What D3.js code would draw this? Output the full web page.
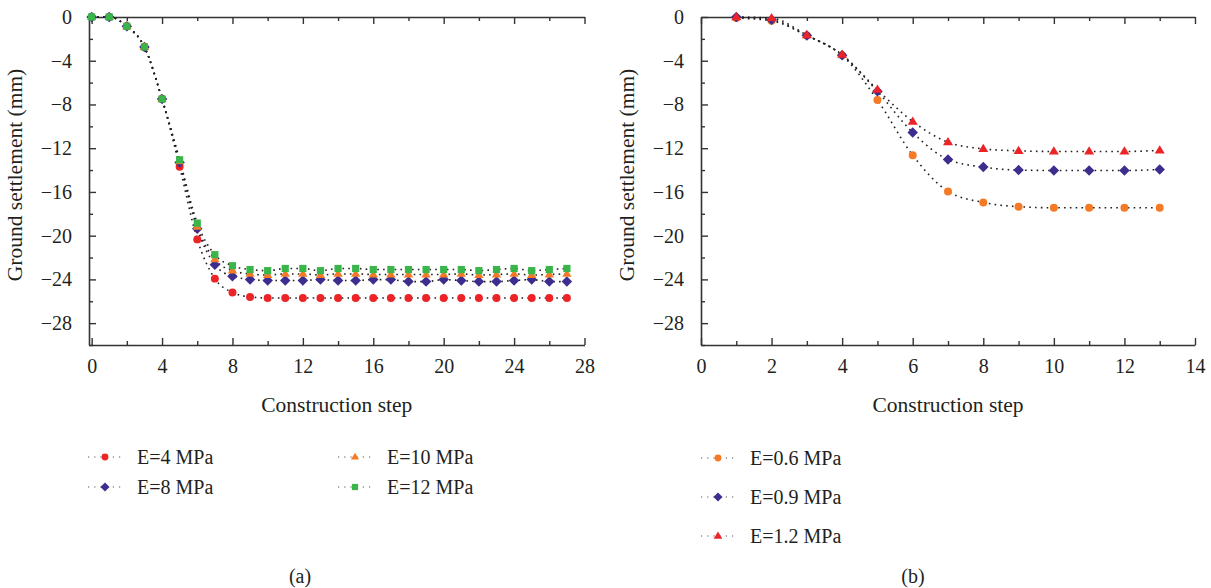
<!DOCTYPE html>
<html>
<head>
<meta charset="utf-8">
<script src="https://cdn.jsdelivr.net/npm/d3@7"></script>
<style>
  html, body { margin: 0; padding: 0; background: #fff; }
  svg { display: block; }
  text { font-family: "Liberation Serif", "DejaVu Serif", serif; fill: #231f20; }
</style>
</head>
<body>
<svg id="chart" width="1211" height="588"></svg>
<script>
// ---- Panel (a): settlement vs. construction step for four moduli ----
const stepsA = d3.range(0, 28);
const seriesANames = ["E=4 MPa", "E=8 MPa", "E=10 MPa", "E=12 MPa"];
const settleE4 = [0, 0, -0.85, -2.74, -7.5, -13.7, -20.34, -23.93, -25.2, -25.6, -25.7, -25.7, -25.7, -25.7, -25.7, -25.7, -25.7, -25.7, -25.7, -25.7, -25.7, -25.7, -25.7, -25.7, -25.7, -25.7, -25.7, -25.7];
const settleE8 = [0, 0, -0.85, -2.74, -7.5, -13.3, -19.36, -22.65, -23.72, -24.0, -24.1, -24.1, -24.1, -24.02, -24.1, -24.1, -24.02, -24.02, -24.2, -24.2, -24.02, -24.1, -24.2, -24.2, -24.1, -24.02, -24.2, -24.2];
const settleE10 = [0, 0, -0.85, -2.74, -7.5, -13.2, -19.2, -22.17, -23.2, -23.5, -23.6, -23.5, -23.5, -23.6, -23.5, -23.5, -23.55, -23.55, -23.55, -23.55, -23.55, -23.5, -23.6, -23.55, -23.5, -23.6, -23.55, -23.5];
const settleE12 = [0, 0, -0.85, -2.74, -7.5, -13.06, -18.85, -21.74, -22.75, -23.1, -23.2, -23.0, -23.0, -23.2, -23.0, -23.0, -23.1, -23.1, -23.1, -23.1, -23.1, -23.1, -23.2, -23.1, -23.0, -23.2, -23.1, -23.0];
const xTicksA = [0, 4, 8, 12, 16, 20, 24, 28];

// ---- Panel (b): settlement vs. construction step for three moduli ----
const stepsB = d3.range(1, 14);
const seriesBNames = ["E=0.6 MPa", "E=0.9 MPa", "E=1.2 MPa"];
const settleE06 = [-0.1, -0.35, -1.7, -3.5, -7.6, -12.64, -15.95, -16.96, -17.35, -17.45, -17.45, -17.45, -17.45];
const settleE09 = [0, -0.25, -1.7, -3.5, -6.8, -10.57, -13.03, -13.73, -14.0, -14.04, -14.04, -14.04, -13.95];
const settleE12b = [0, -0.1, -1.65, -3.45, -6.65, -9.56, -11.45, -12.06, -12.24, -12.3, -12.3, -12.3, -12.2];
const xTicksB = [0, 2, 4, 6, 8, 10, 12, 14];

const yTicks = [0, -4, -8, -12, -16, -20, -24, -28];
const yLabel = "Ground settlement (mm)";
const xLabel = "Construction step";

const svg = d3.select("#chart");

const axisColor = "#333";

// marker shapes; the diamond is a square turned 45 degrees
function markerPath(shape, size) {
  if (shape === "diamond") {
    const h = Math.sqrt(size) / Math.SQRT2 * 1.05;
    return `M0,${-h}L${h},0L0,${h}L${-h},0Z`;
  }
  if (shape === "triangle") {
    const s = Math.sqrt(size) * 1.45;
    const hgt = s * 0.82;
    return `M0,${-hgt * 0.62}L${s / 2},${hgt * 0.38}L${-s / 2},${hgt * 0.38}Z`;
  }
  const types = { circle: d3.symbolCircle, square: d3.symbolSquare };
  return d3.symbol().type(types[shape]).size(size)();
}

function drawPanel(cfg) {
  const g = svg.append("g");
  const x = d3.scaleLinear().domain(cfg.xDomain).range([cfg.left, cfg.right]);
  const y = d3.scaleLinear().domain([-30, 0]).range([cfg.bottom, cfg.top]);

  // bottom axis (ticks inward)
  g.append("g").attr("transform", `translate(0,${cfg.bottom})`)
    .call(d3.axisBottom(x).tickValues(cfg.xTicks).tickSizeInner(-7).tickSizeOuter(0)
      .tickFormat(d => d).tickPadding(14));
  g.append("g").attr("transform", `translate(0,${cfg.bottom})`)
    .call(d3.axisBottom(x).tickValues(cfg.xMinor).tickSizeInner(-4).tickSizeOuter(0).tickFormat(""))
    .select(".domain").remove();

  // top axis (ticks inward, no labels)
  g.append("g").attr("transform", `translate(0,${cfg.top})`)
    .call(d3.axisTop(x).tickValues(cfg.xTicks).tickSizeInner(-7).tickSizeOuter(0).tickFormat(""));
  g.append("g").attr("transform", `translate(0,${cfg.top})`)
    .call(d3.axisTop(x).tickValues(cfg.xMinor).tickSizeInner(-4).tickSizeOuter(0).tickFormat(""))
    .select(".domain").remove();

  // left axis (ticks inward)
  g.append("g").attr("transform", `translate(${cfg.left},0)`)
    .call(d3.axisLeft(y).tickValues(yTicks).tickSizeInner(-7).tickSizeOuter(0)
      .tickFormat(d => d === 0 ? "0" : "\u2212" + Math.abs(d)).tickPadding(17));
  g.append("g").attr("transform", `translate(${cfg.left},0)`)
    .call(d3.axisLeft(y).tickValues([-2, -6, -10, -14, -18, -22, -26, -30]).tickSizeInner(-4).tickSizeOuter(0).tickFormat(""))
    .select(".domain").remove();

  g.selectAll(".domain").attr("stroke", axisColor).attr("stroke-width", 1.6);
  g.selectAll(".tick line").attr("stroke", axisColor).attr("stroke-width", 1.4);
  g.selectAll(".tick text").attr("font-size", 20).attr("fill", "#231f20")
    .attr("font-family", "Liberation Serif, DejaVu Serif, serif");

  // axis titles
  g.append("text")
    .attr("transform", `translate(${cfg.left - 67},${(cfg.top + cfg.bottom) / 2 - 6}) rotate(-90)`)
    .attr("text-anchor", "middle").attr("font-size", 21.5).text(yLabel);
  g.append("text")
    .attr("x", (cfg.left + cfg.right) / 2).attr("y", 412)
    .attr("text-anchor", "middle").attr("font-size", 21.5).text(xLabel);

  // series
  const line = d3.line().x(d => x(d[0])).y(d => y(d[1])).curve(d3.curveMonotoneX);
  cfg.series.forEach(s => {
    const pts = cfg.steps.map((st, i) => [st, s.values[i]]);
    g.append("path").datum(pts).attr("d", line)
      .attr("fill", "none").attr("stroke", "#231f20").attr("stroke-width", 1.6)
      .attr("stroke-dasharray", "1.6,4.2");
  });
  cfg.series.forEach(s => {
    const pts = cfg.steps.map((st, i) => [st, s.values[i]]);
    g.append("g").selectAll("path").data(pts).join("path")
      .attr("transform", d => `translate(${x(d[0])},${y(d[1])})`)
      .attr("d", markerPath(s.shape, s.size)).attr("fill", s.color);
  });

  // legend
  cfg.legend.forEach(l => {
    const s = cfg.series[l.idx];
    const lg = g.append("g").attr("transform", `translate(${l.x},${l.y})`);
    lg.append("line").attr("x1", -17).attr("x2", 17).attr("y1", 0).attr("y2", 0)
      .attr("stroke", "#555").attr("stroke-width", 1.2).attr("stroke-dasharray", "1.2,5");
    lg.append("path").attr("d", markerPath(s.shape, s.size * 0.75)).attr("fill", s.color);
    lg.append("text").attr("x", 32).attr("y", 7).attr("font-size", 20).text(s.name);
  });

  g.append("text").attr("x", cfg.tagX).attr("y", 583).attr("text-anchor", "middle")
    .attr("font-size", 20).text(cfg.tag);
}

const red = "#ec2427", blue = "#3b2e8e", orange = "#f47a26", green = "#39b54a";

drawPanel({
  xDomain: [-0.15, 28], left: 89, right: 584.5, top: 17, bottom: 345,
  xTicks: xTicksA, xMinor: [2, 6, 10, 14, 18, 22, 26],
  steps: stepsA,
  series: [
    { name: seriesANames[0], values: settleE4, color: red, shape: "circle", size: 50 },
    { name: seriesANames[1], values: settleE8, color: blue, shape: "diamond", size: 50 },
    { name: seriesANames[2], values: settleE10, color: orange, shape: "triangle", size: 42 },
    { name: seriesANames[3], values: settleE12, color: green, shape: "square", size: 52 }
  ],
  legend: [
    { idx: 0, x: 105, y: 457 }, { idx: 1, x: 105, y: 487 },
    { idx: 2, x: 355, y: 457 }, { idx: 3, x: 355, y: 487 }
  ],
  tag: "(a)", tagX: 300
});

drawPanel({
  xDomain: [0, 14], left: 701, right: 1195, top: 17, bottom: 345,
  xTicks: xTicksB, xMinor: [1, 3, 5, 7, 9, 11, 13],
  steps: stepsB,
  series: [
    { name: seriesBNames[0], values: settleE06, color: orange, shape: "circle", size: 50 },
    { name: seriesBNames[1], values: settleE09, color: blue, shape: "diamond", size: 50 },
    { name: seriesBNames[2], values: settleE12b, color: red, shape: "triangle", size: 48 }
  ],
  legend: [
    { idx: 0, x: 718, y: 458 }, { idx: 1, x: 718, y: 497 }, { idx: 2, x: 718, y: 536 }
  ],
  tag: "(b)", tagX: 913
});
</script>
</body>
</html>
